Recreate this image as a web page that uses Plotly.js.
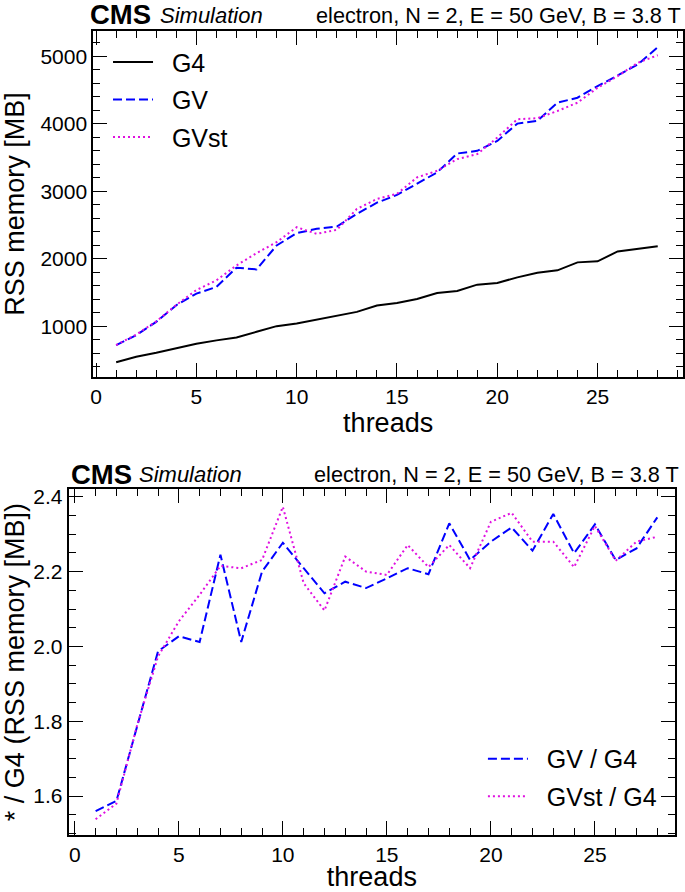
<!DOCTYPE html>
<html>
<head>
<meta charset="utf-8">
<script src="https://cdn.plot.ly/plotly-3.0.1.min.js"></script>
<style>html,body{margin:0;padding:0;background:#fff;}#chart{width:685px;height:892px;}</style>
</head>
<body>
<div id="chart"></div>
<script>
const threads = [1,2,3,4,5,6,7,8,9,10,11,12,13,14,15,16,17,18,19,20,21,22,23,24,25,26,27,28];
const g4Mem   = [465,547,606,670,739,789,833,916,1000,1040,1099,1152,1211,1305,1344,1403,1492,1521,1615,1640,1723,1792,1827,1945,1960,2107,2147,2185];
const gvMem   = [720,867,1064,1310,1482,1581,1866,1841,2195,2378,2442,2476,2663,2830,2944,3106,3278,3558,3598,3745,4001,4041,4311,4385,4557,4715,4877,5133];
const gvstMem = [720,875,1070,1315,1535,1679,1900,2082,2245,2466,2368,2427,2737,2885,2960,3204,3302,3475,3549,3794,4066,4081,4188,4311,4532,4705,4901,5015];
const ratioGV   = [1.560,1.587,1.787,1.987,2.027,2.012,2.245,2.012,2.200,2.277,2.209,2.142,2.173,2.156,2.182,2.209,2.193,2.329,2.231,2.280,2.318,2.256,2.354,2.249,2.326,2.231,2.262,2.345];
const ratioGVst = [1.538,1.580,1.790,1.973,2.067,2.138,2.215,2.209,2.231,2.373,2.169,2.096,2.240,2.200,2.191,2.271,2.212,2.271,2.209,2.333,2.357,2.280,2.280,2.212,2.322,2.229,2.280,2.293];
const seriesNames = ["G4", "GV", "GVst", "GV / G4", "GVst / G4"];
const header = "electron, N = 2, E = 50 GeV, B = 3.8 T";

const FONT = "Liberation Sans, Arial, Helvetica, sans-serif";
const BLUE = "#0000ff", MAG = "#e010e0";
const GAP = "\u00a0\u00a0";

const traces = [
  {x: threads, y: g4Mem, name: GAP + seriesNames[0], mode: "lines", line: {color: "#000", width: 2}, xaxis: "x", yaxis: "y", legend: "legend", legendgroup: "a"},
  {x: threads, y: gvMem, name: GAP + seriesNames[1], mode: "lines", line: {color: BLUE, width: 2, dash: "9px,4px"}, xaxis: "x", yaxis: "y", legend: "legend", legendgroup: "b"},
  {x: threads, y: gvstMem, name: GAP + seriesNames[2], mode: "lines", line: {color: MAG, width: 2, dash: "2px,3px"}, xaxis: "x", yaxis: "y", legend: "legend", legendgroup: "c"},
  {x: threads, y: ratioGV, name: GAP + seriesNames[3], mode: "lines", line: {color: BLUE, width: 2, dash: "9px,4px"}, xaxis: "x2", yaxis: "y2", legend: "legend2", legendgroup: "d"},
  {x: threads, y: ratioGVst, name: GAP + seriesNames[4], mode: "lines", line: {color: MAG, width: 2, dash: "2px,3px"}, xaxis: "x2", yaxis: "y2", legend: "legend2", legendgroup: "e"}
];

function axisBase(extra) {
  return Object.assign({
    showline: true, linecolor: "#000", linewidth: 2, mirror: "ticks",
    ticks: "inside", ticklen: 14, tickwidth: 1, tickcolor: "#000",
    showgrid: false, zeroline: false,
    tickfont: {family: FONT, size: 21, color: "#000"},
    fixedrange: true
  }, extra);
}

const layout = {
  width: 685, height: 892,
  margin: {l: 0, r: 0, t: 0, b: 0},
  paper_bgcolor: "#fff", plot_bgcolor: "#fff",
  font: {family: FONT, color: "#000"},
  showlegend: true,
  xaxis: axisBase({
    domain: [0.1362, 0.9971], anchor: "y", range: [-0.14, 29.26],
    dtick: 5, tick0: 0,
    minor: {dtick: 1, ticklen: 7, ticks: "inside", tickcolor: "#000", showgrid: false},
    title: {text: "threads", font: {family: FONT, size: 27}, standoff: 4}
  }),
  yaxis: axisBase({
    domain: [0.5774, 0.9652], anchor: "x", range: [247, 5373],
    dtick: 1000, tick0: 0,
    minor: {dtick: 200, ticklen: 7, ticks: "inside", tickcolor: "#000", showgrid: false},
    title: {text: "RSS memory [MB]", font: {family: FONT, size: 27}, standoff: 8}
  }),
  xaxis2: axisBase({
    domain: [0.1004, 0.9854], anchor: "y2", range: [-0.29, 28.85],
    dtick: 5, tick0: 0,
    minor: {dtick: 1, ticklen: 7, ticks: "inside", tickcolor: "#000", showgrid: false},
    title: {text: "threads", font: {family: FONT, size: 27}, standoff: 0}
  }),
  yaxis2: axisBase({
    domain: [0.0639, 0.4515], anchor: "x2", range: [1.496, 2.42],
    dtick: 0.2, tick0: 0, tickformat: ".1f",
    minor: {dtick: 0.05, ticklen: 7, ticks: "inside", tickcolor: "#000", showgrid: false},
    title: {text: "* / G4 (RSS memory [MB])", font: {family: FONT, size: 27}, standoff: 8}
  }),
  legend: {
    x: 0.1577, y: 0.956, xanchor: "left", yanchor: "top",
    bgcolor: "rgba(0,0,0,0)", borderwidth: 0,
    font: {family: FONT, size: 25, color: "#000"},
    traceorder: "grouped", tracegroupgap: 2, itemwidth: 40
  },
  legend2: {
    x: 0.705, y: 0.175, xanchor: "left", yanchor: "top",
    bgcolor: "rgba(0,0,0,0)", borderwidth: 0,
    font: {family: FONT, size: 25, color: "#000"},
    traceorder: "grouped", tracegroupgap: 2, itemwidth: 40
  },
  annotations: [
    {text: "<b>CMS</b>", xref: "paper", yref: "paper", x: 0.1279, y: 0.9832, xanchor: "left", yanchor: "middle", showarrow: false, font: {family: FONT, size: 27.5, color: "#000"}},
    {text: "<i>Simulation</i>", xref: "paper", yref: "paper", x: 0.2307, y: 0.9822, xanchor: "left", yanchor: "middle", showarrow: false, font: {family: FONT, size: 22, color: "#000"}},
    {text: header, xref: "paper", yref: "paper", x: 0.997, y: 0.9822, xanchor: "right", yanchor: "middle", showarrow: false, font: {family: FONT, size: 21.7, color: "#000"}},
    {text: "<b>CMS</b>", xref: "paper", yref: "paper", x: 0.1007, y: 0.4686, xanchor: "left", yanchor: "middle", showarrow: false, font: {family: FONT, size: 27.5, color: "#000"}},
    {text: "<i>Simulation</i>", xref: "paper", yref: "paper", x: 0.2007, y: 0.4676, xanchor: "left", yanchor: "middle", showarrow: false, font: {family: FONT, size: 22, color: "#000"}},
    {text: header, xref: "paper", yref: "paper", x: 0.9942, y: 0.4676, xanchor: "right", yanchor: "middle", showarrow: false, font: {family: FONT, size: 21.7, color: "#000"}}
  ]
};

Plotly.newPlot("chart", traces, layout, {staticPlot: true, displayModeBar: false});
</script>
</body>
</html>
